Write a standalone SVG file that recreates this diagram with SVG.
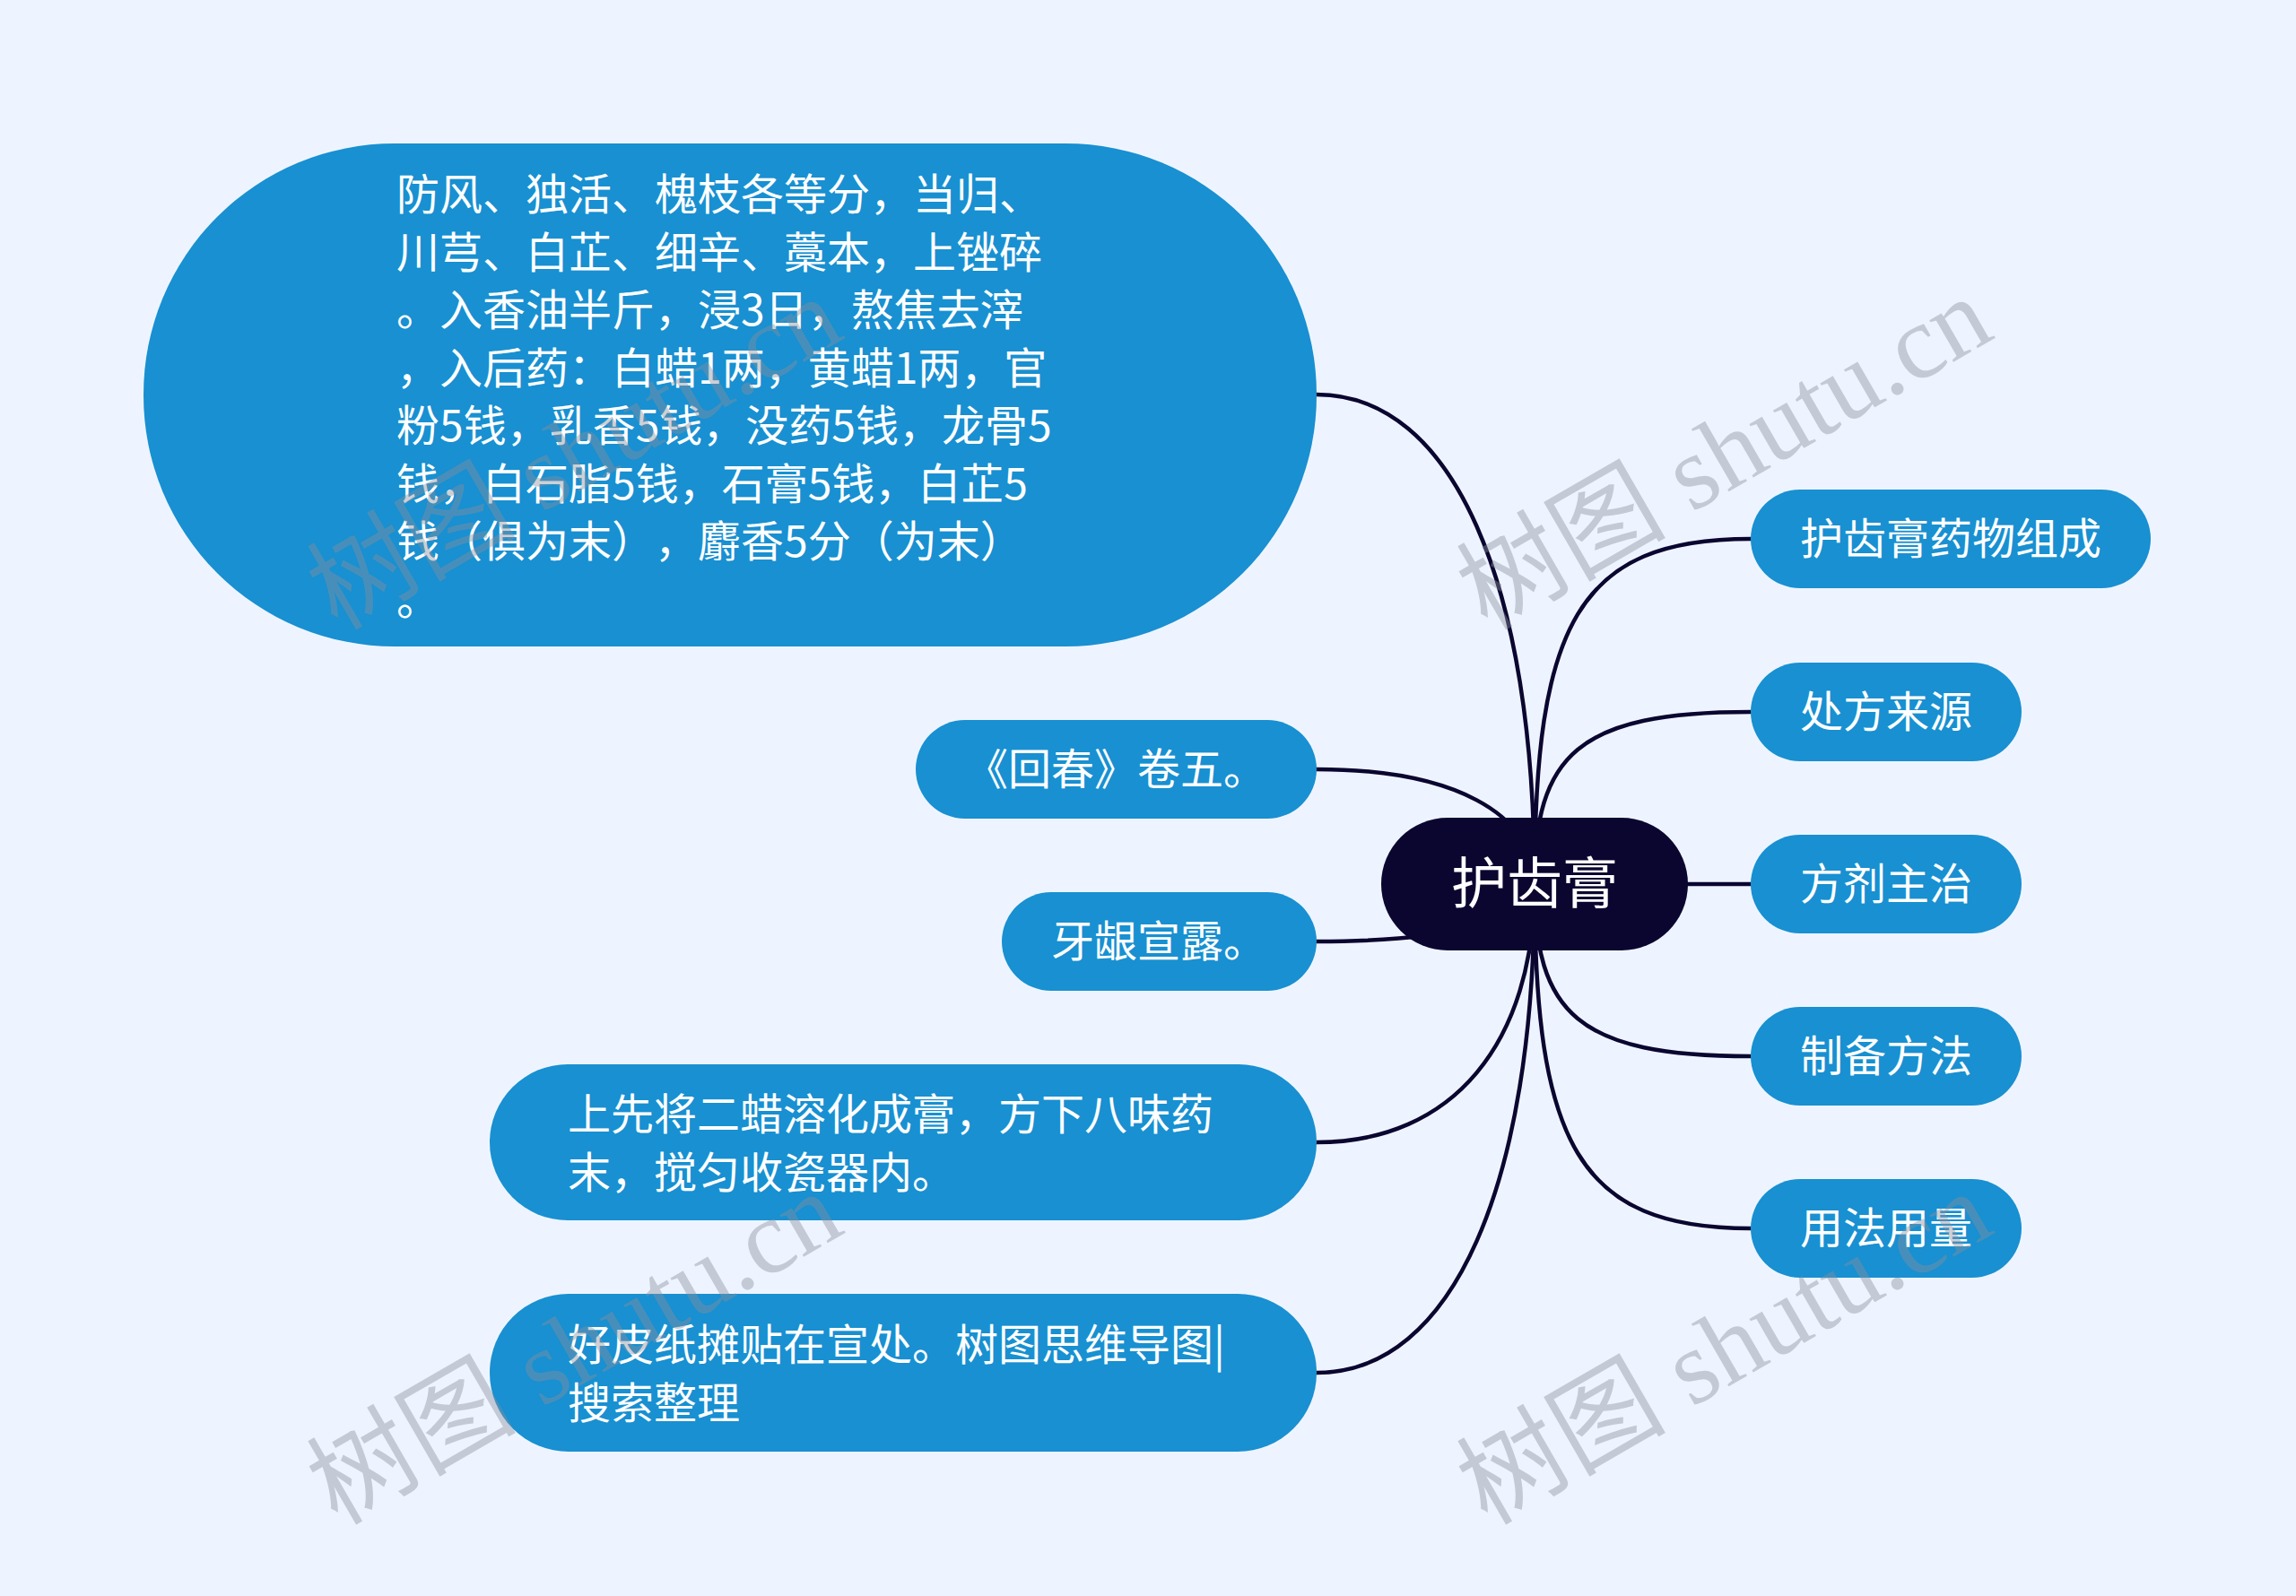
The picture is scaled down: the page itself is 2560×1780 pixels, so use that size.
<svg xmlns="http://www.w3.org/2000/svg" width="2560" height="1780" viewBox="0 0 2560 1780">
<style>
.bg{fill:#EEF4FF}
.node{fill:#1890D1}
.root{fill:#0B0630}
.t{font-family:"Noto Sans CJK SC","Noto Sans",sans-serif;font-size:48px;fill:#FFFFFF;text-spacing-trim:space-all}
.rt{font-family:"Noto Sans CJK SC","Noto Sans",sans-serif;font-size:62px;fill:#FFFFFF}
.c{fill:none;stroke:#0B0630;stroke-width:4.5;stroke-linecap:round}
.wm{font-family:"Liberation Serif","Noto Sans CJK SC",serif;font-size:117px;fill:#8A8F9C;fill-opacity:0.42}
</style>
<rect class="bg" x="0" y="0" width="2560" height="1780"/>
<g id="connectors">
<path class="c" d="M1711 986 C1711 697 1759 601 1952 601"/>
<path class="c" d="M1711 986 C1711 842 1759 794 1952 794"/>
<path class="c" d="M1711 986 L1952 986"/>
<path class="c" d="M1711 986 C1711 1130 1759 1178 1952 1178"/>
<path class="c" d="M1711 986 C1711 1274 1759 1370 1952 1370"/>
<path class="c" d="M1711 986 C1711 650 1620 440 1468 440"/>
<path class="c" d="M1711 986 C1711 907 1620 858 1468 858"/>
<path class="c" d="M1711 986 C1711 1025 1620 1050 1468 1050"/>
<path class="c" d="M1711 986 C1711 1163 1620 1274 1468 1274"/>
<path class="c" d="M1711 986 C1711 1321 1620 1531 1468 1531"/>
</g>
<g id="root">
<rect class="root" x="1540" y="912" width="342" height="148" rx="74"/>
<text class="rt" x="1711" y="1008" text-anchor="middle">护齿膏</text>
</g>
<g id="n-composition">
<rect class="node" x="1952" y="546" width="446" height="110" rx="55"/>
<text class="t" x="2175" y="618" text-anchor="middle">护齿膏药物组成</text>
</g>
<g id="n-source">
<rect class="node" x="1952" y="739" width="302" height="110" rx="55"/>
<text class="t" x="2103" y="811" text-anchor="middle">处方来源</text>
</g>
<g id="n-indication">
<rect class="node" x="1952" y="931" width="302" height="110" rx="55"/>
<text class="t" x="2103" y="1003" text-anchor="middle">方剂主治</text>
</g>
<g id="n-preparation">
<rect class="node" x="1952" y="1123" width="302" height="110" rx="55"/>
<text class="t" x="2103" y="1195" text-anchor="middle">制备方法</text>
</g>
<g id="n-usage">
<rect class="node" x="1952" y="1315" width="302" height="110" rx="55"/>
<text class="t" x="2103" y="1387" text-anchor="middle">用法用量</text>
</g>
<g id="n-ingredients">
<rect class="node" x="160" y="160" width="1308" height="561" rx="280"/>
<text class="t" x="442">
<tspan x="442" y="234">防风、独活、槐枝各等分，当归、</tspan>
<tspan x="442" y="298.5">川芎、白芷、细辛、藁本，上锉碎</tspan>
<tspan x="442" y="363">。入香油半斤，浸3日，熬焦去滓</tspan>
<tspan x="442" y="427.5">，入后药：白蜡1两，黄蜡1两，官</tspan>
<tspan x="442" y="492">粉5钱，乳香5钱，没药5钱，龙骨5</tspan>
<tspan x="442" y="556.5">钱，白石脂5钱，石膏5钱，白芷5</tspan>
<tspan x="442" y="621">钱（俱为末），麝香5分（为末）</tspan>
<tspan x="442" y="685.5">。</tspan>
</text>
</g>
<g id="n-book">
<rect class="node" x="1021" y="803" width="447" height="110" rx="55"/>
<text class="t" x="1244" y="875" text-anchor="middle">《回春》卷五。</text>
</g>
<g id="n-gum">
<rect class="node" x="1117" y="995" width="351" height="110" rx="55"/>
<text class="t" x="1292" y="1067" text-anchor="middle">牙龈宣露。</text>
</g>
<g id="n-method">
<rect class="node" x="546" y="1187" width="922" height="174" rx="87"/>
<text class="t"><tspan x="633" y="1260">上先将二蜡溶化成膏，方下八味药</tspan><tspan x="633" y="1325">末，搅匀收瓷器内。</tspan></text>
</g>
<g id="n-usage-text">
<rect class="node" x="546" y="1443" width="922" height="176" rx="88"/>
<text class="t"><tspan x="633" y="1517">好皮纸摊贴在宣处。树图思维导图|</tspan><tspan x="633" y="1582">搜索整理</tspan></text>
</g>
<g id="watermarks">
<text class="wm" transform="translate(376 704) rotate(-30)">树图 shutu.cn</text>
<text class="wm" transform="translate(1658 704) rotate(-30)">树图 shutu.cn</text>
<text class="wm" transform="translate(376 1702) rotate(-30)">树图 shutu.cn</text>
<text class="wm" transform="translate(1658 1702) rotate(-30)">树图 shutu.cn</text>
</g>
</svg>
